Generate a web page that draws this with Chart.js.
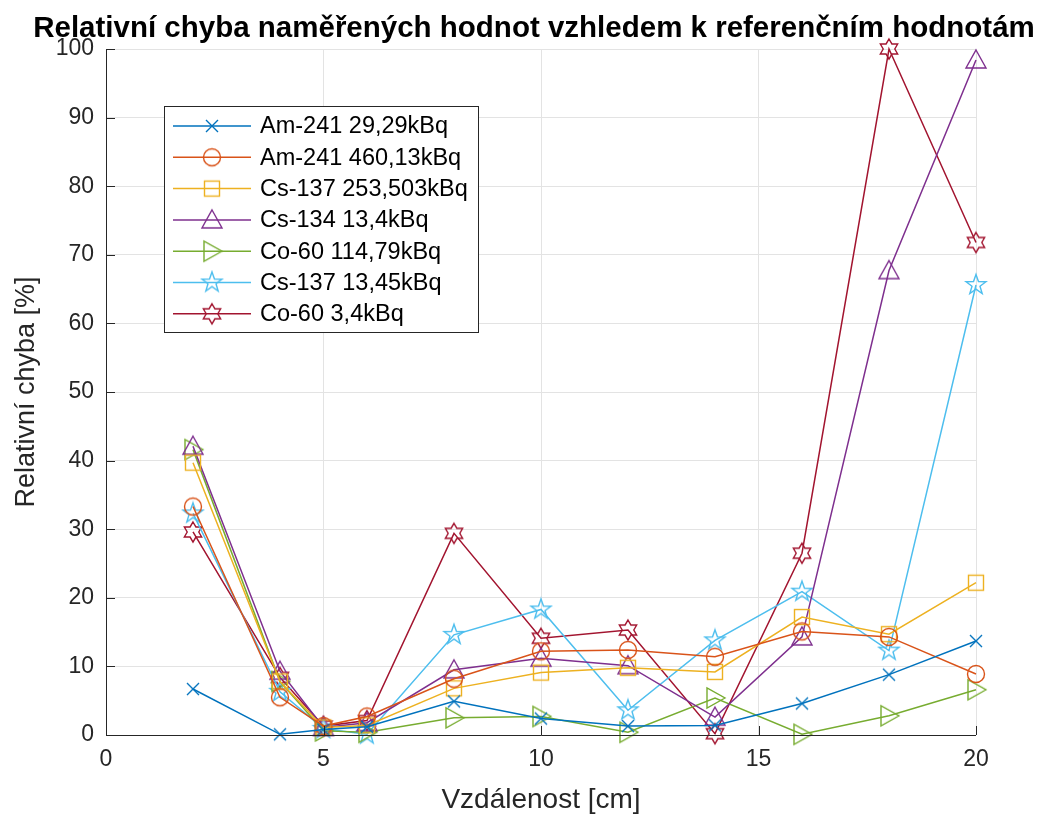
<!DOCTYPE html>
<html>
<head>
<meta charset="utf-8">
<script src="https://cdn.jsdelivr.net/npm/chart.js@4.4.0/dist/chart.umd.min.js"></script>
<style>
  html, body { margin: 0; padding: 0; background: #fff; }
  #wrap { width: 1041px; height: 817px; }
</style>
</head>
<body>
<div id="wrap"><canvas id="errorChart" width="1041" height="817"></canvas></div>
<script>
// distances in cm
const distances = [2, 4, 5, 6, 8, 10, 12, 14, 16, 18, 20];

// relative error in % for each source
const am241_29 = [6.7, 0.1, 0.8, 1.2, 4.9, 2.4, 1.3, 1.4, 4.6, 8.8, 13.7];
const am241_460 = [33.3, 5.5, 1.3, 2.7, 8.2, 12.2, 12.4, 11.4, 15.1, 14.3, 8.9];
const cs137_253 = [39.7, 7.8, 1.1, 1.4, 6.8, 9.1, 9.8, 9.2, 17.2, 14.7, 22.2];
const cs134_13 = [42.1, 9.3, 1.1, 1.8, 9.5, 11.2, 10.1, 2.6, 14.3, 67.7, 98.4];
const co60_114 = [41.6, 7.8, 0.6, 0.4, 2.5, 2.7, 0.4, 5.4, 0.1, 2.8, 6.6];
const cs137_13 = [32.3, 6.3, 0.9, 0.1, 14.6, 18.3, 3.6, 13.8, 20.9, 12.3, 65.6];
const co60_3 = [29.6, 8.4, 1.3, 2.1, 29.4, 14.1, 15.3, 0.2, 26.5, 100, 71.8];

const seriesLabels = [
  "Am-241 29,29kBq",
  "Am-241 460,13kBq",
  "Cs-137 253,503kBq",
  "Cs-134 13,4kBq",
  "Co-60 114,79kBq",
  "Cs-137 13,45kBq",
  "Co-60 3,4kBq"
];
const seriesValues = [am241_29, am241_460, cs137_253, cs134_13, co60_114, cs137_13, co60_3];
const seriesColors = ["#0072BD", "#D95319", "#EDB120", "#7E2F8E", "#77AC30", "#4DBEEE", "#A2142F"];
const seriesMarkers = ["x", "o", "s", "^", ">", "p", "h"];

const xTicksMax = 20;
const yTicksMax = 100;

const chartTitle = "Relativní chyba naměřených hodnot vzhledem k referenčním hodnotám";

const FONT = "'Liberation Sans', Arial, Helvetica, sans-serif";

// outline marker drawn into a small canvas, used as pointStyle
function starPath(ctx, c, n, rOut, rIn, rot) {
  ctx.beginPath();
  for (let i = 0; i < n * 2; i++) {
    const r = i % 2 === 0 ? rOut : rIn;
    const a = rot + (Math.PI * i) / n;
    const px = c + r * Math.cos(a);
    const py = c + r * Math.sin(a);
    if (i === 0) ctx.moveTo(px, py); else ctx.lineTo(px, py);
  }
  ctx.closePath();
}

function makeMarker(shape, color) {
  const size = 26;
  const c = size / 2;
  const cv = document.createElement("canvas");
  cv.width = size;
  cv.height = size;
  const ctx = cv.getContext("2d");
  ctx.strokeStyle = color;
  ctx.lineWidth = 1.4;
  ctx.lineJoin = "miter";
  switch (shape) {
    case "x":
      ctx.beginPath();
      ctx.moveTo(c - 6, c - 6); ctx.lineTo(c + 6, c + 6);
      ctx.moveTo(c + 6, c - 6); ctx.lineTo(c - 6, c + 6);
      ctx.stroke();
      break;
    case "o":
      ctx.beginPath();
      ctx.arc(c, c, 8.5, 0, Math.PI * 2);
      ctx.stroke();
      break;
    case "s":
      ctx.strokeRect(c - 7.5, c - 7.5, 15, 15);
      break;
    case "^":
      ctx.beginPath();
      ctx.moveTo(c, c - 10); ctx.lineTo(c + 10, c + 8); ctx.lineTo(c - 10, c + 8);
      ctx.closePath();
      ctx.stroke();
      break;
    case ">":
      ctx.beginPath();
      ctx.moveTo(c + 10, c); ctx.lineTo(c - 8, c + 10); ctx.lineTo(c - 8, c - 10);
      ctx.closePath();
      ctx.stroke();
      break;
    case "p":
      starPath(ctx, c, 5, 10.5, 4.2, -Math.PI / 2);
      ctx.stroke();
      break;
    case "h":
      starPath(ctx, c, 6, 10, 5.8, -Math.PI / 2);
      ctx.stroke();
      break;
  }
  return cv;
}

const markerImages = seriesMarkers.map((m, i) => makeMarker(m, seriesColors[i]));

const datasets = seriesLabels.map((label, i) => ({
  label: label,
  data: distances.map((d, j) => ({ x: d, y: seriesValues[i][j] })),
  borderColor: seriesColors[i],
  backgroundColor: seriesColors[i],
  borderWidth: 1.5,
  pointStyle: markerImages[i],
  pointRadius: 9,
  pointHoverRadius: 9,
  tension: 0,
  clip: false
}));

// title, inward tick marks, axis lines and legend box inside the plot
const matlabAxes = {
  id: "matlabAxes",
  afterDatasetsDraw(chart) {
    const { ctx, chartArea: a, scales } = chart;
    ctx.save();

    ctx.fillStyle = "#000";
    ctx.font = "bold 29.5px " + FONT;
    ctx.textAlign = "center";
    ctx.textBaseline = "middle";
    ctx.fillText(chartTitle, 534, 29);

    ctx.strokeStyle = "#262626";
    ctx.lineWidth = 1;
    ctx.beginPath();
    ctx.moveTo(a.left + 0.5, a.top);
    ctx.lineTo(a.left + 0.5, a.bottom + 0.5);
    ctx.lineTo(a.right, a.bottom + 0.5);
    ctx.stroke();
    ctx.beginPath();
    scales.x.ticks.forEach(t => {
      const px = Math.round(scales.x.getPixelForValue(t.value)) + 0.5;
      ctx.moveTo(px, a.bottom);
      ctx.lineTo(px, a.bottom - 9);
    });
    scales.y.ticks.forEach(t => {
      const py = Math.round(scales.y.getPixelForValue(t.value)) + 0.5;
      ctx.moveTo(a.left, py);
      ctx.lineTo(a.left + 9, py);
    });
    ctx.stroke();

    // legend
    const lx = a.left + 58, ly = a.top + 57, lw = 314, lh = 226;
    ctx.fillStyle = "#fff";
    ctx.fillRect(lx, ly, lw, lh);
    ctx.strokeStyle = "#262626";
    ctx.strokeRect(lx + 0.5, ly + 0.5, lw, lh);
    ctx.font = "23.5px " + FONT;
    ctx.textBaseline = "middle";
    ctx.textAlign = "left";
    chart.data.datasets.forEach((ds, i) => {
      const y = ly + 20 + i * 31.3;
      ctx.strokeStyle = ds.borderColor;
      ctx.lineWidth = 1.5;
      ctx.beginPath();
      ctx.moveTo(lx + 9, y);
      ctx.lineTo(lx + 87, y);
      ctx.stroke();
      const img = ds.pointStyle;
      ctx.drawImage(img, lx + 48 - img.width / 2, y - img.height / 2);
      ctx.fillStyle = "#000";
      ctx.fillText(ds.label, lx + 96, y + 1);
    });
    ctx.restore();
  }
};

new Chart(document.getElementById("errorChart"), {
  type: "line",
  data: { datasets: datasets },
  options: {
    responsive: false,
    animation: false,
    layout: { padding: { top: 49, right: 65, left: 0, bottom: 0 } },
    plugins: {
      legend: { display: false },
      tooltip: { enabled: false },
      title: { display: false }
    },
    scales: {
      x: {
        type: "linear",
        min: 0,
        max: xTicksMax,
        ticks: {
          stepSize: 5,
          color: "#262626",
          font: { family: FONT, size: 23 },
          padding: 11,
          maxRotation: 0
        },
        grid: { color: "#e3e3e3", drawTicks: false },
        border: { display: false },
        title: {
          display: true,
          text: "Vzdálenost [cm]",
          color: "#262626",
          font: { family: FONT, size: 28 },
          padding: { top: 4, bottom: 0 }
        },
        afterFit: s => { s.height = 82; }
      },
      y: {
        min: 0,
        max: yTicksMax,
        ticks: {
          stepSize: 10,
          color: "#262626",
          font: { family: FONT, size: 23 },
          padding: 12
        },
        grid: { color: "#e3e3e3", drawTicks: false },
        border: { display: false },
        title: {
          display: true,
          text: "Relativní chyba [%]",
          color: "#262626",
          font: { family: FONT, size: 27 },
          padding: { top: 10, bottom: 0 }
        },
        afterFit: s => { s.width = 106; }
      }
    }
  },
  plugins: [matlabAxes]
});
</script>
</body>
</html>
